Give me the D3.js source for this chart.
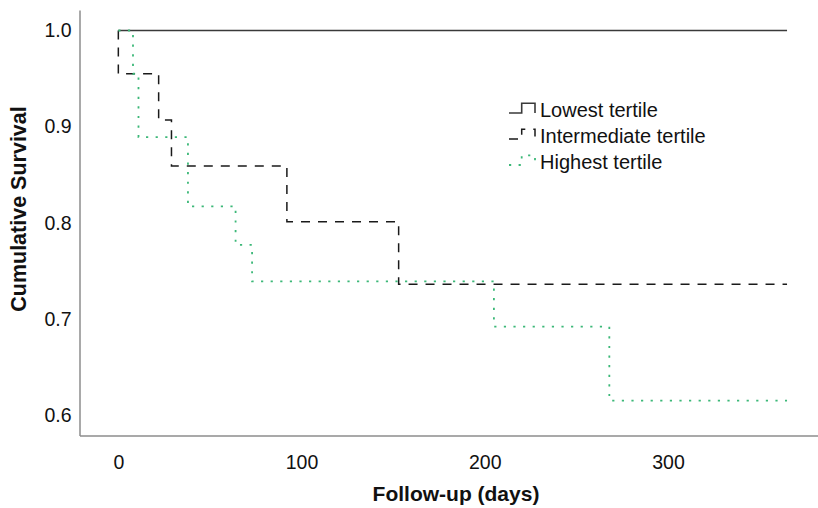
<!DOCTYPE html>
<html>
<head>
<meta charset="utf-8">
<script src="https://cdn.jsdelivr.net/npm/d3@7"></script>
<style>
  body { margin: 0; background: #fff; }
  svg { display: block; font-family: "Liberation Sans", Arial, sans-serif; }
</style>
</head>
<body>
<svg id="chart" width="818" height="508"></svg>
<script>
// Kaplan-Meier steps
var lowest_days = [0, 365];
var lowest_surv = [1.0, 1.0];

var inter_days = [0, 0, 22, 29, 92, 153, 365];
var inter_surv = [1.0, 0.955, 0.907, 0.859, 0.801, 0.736, 0.736];

var high_days = [0, 8, 11, 38, 64, 73, 205, 268, 365];
var high_surv = [1.0, 0.955, 0.889, 0.817, 0.777, 0.739, 0.692, 0.615, 0.615];

var series_names = ["Lowest tertile", "Intermediate tertile", "Highest tertile"];
var x_ticks = [0, 100, 200, 300];
var y_ticks = [0.6, 0.7, 0.8, 0.9, 1.0];

var svg = d3.select("#chart");

var x_scale = d3.scaleLinear().domain([-21.2, 381.9]).range([79.5, 818]);
var y_scale = d3.scaleLinear().domain([0.5787, 1.0213]).range([435.5, 10]);

var styles = [
    {color: "#3a3a3a", dash: null, width: 1.6},
    {color: "#1a1a1a", dash: "9,8", width: 1.5},
    {color: "#3cb878", dash: "2.2,7.4", width: 1.8}
];

function toPoints(days, surv) {
    var pts = [];
    for (var i = 0; i < days.length; i++) pts.push([days[i], surv[i]]);
    return pts;
}

var curves = [
    toPoints(lowest_days, lowest_surv),
    toPoints(inter_days, inter_surv),
    toPoints(high_days, high_surv)
];

// axes (no ticks, labels only)
var x_axis = d3.axisBottom(x_scale).tickValues(x_ticks).tickSize(0).tickPadding(20).tickFormat(d3.format("d"));
var y_axis = d3.axisLeft(y_scale).tickValues(y_ticks).tickSize(0).tickPadding(8).tickFormat(d3.format(".1f"));

var gx = svg.append("g").attr("transform", "translate(0," + y_scale.range()[0] + ")").call(x_axis);
var gy = svg.append("g").attr("transform", "translate(" + x_scale.range()[0] + ",0)").call(y_axis);

[gx, gy].forEach(function(g) {
    g.select(".domain").attr("stroke", "#8c8c8c").attr("stroke-width", 1.5);
    g.selectAll("text").attr("font-size", 19.5).attr("fill", "#111")
        .attr("font-family", "'Liberation Sans', Arial, sans-serif");
});

var line = d3.line()
    .x(function(d) { return x_scale(d[0]); })
    .y(function(d) { return y_scale(d[1]); })
    .curve(d3.curveStepAfter);

svg.selectAll("path.km")
    .data(curves)
    .enter()
    .append("path")
    .attr("class", "km")
    .attr("d", line)
    .attr("fill", "none")
    .attr("stroke", function(d, i) { return styles[i].color; })
    .attr("stroke-width", function(d, i) { return styles[i].width; })
    .attr("stroke-dasharray", function(d, i) { return styles[i].dash; });

// legend
var legend = svg.append("g").attr("transform", "translate(509,116)");
var rows = legend.selectAll("g")
    .data(series_names)
    .enter()
    .append("g")
    .attr("transform", function(d, i) { return "translate(0," + (i * 26) + ")"; });

rows.append("path")
    .attr("d", "M0,-3H12.7V-12.7H26V-3")
    .attr("fill", "none")
    .attr("stroke", function(d, i) { return styles[i].color; })
    .attr("stroke-width", function(d, i) { return styles[i].width; })
    .attr("stroke-dasharray", function(d, i) { return styles[i].dash; });

rows.append("text")
    .attr("x", 31)
    .attr("y", 1)
    .attr("font-size", 20)
    .attr("fill", "#111")
    .text(function(d) { return d; });

// axis titles
svg.append("text")
    .attr("x", 456)
    .attr("y", 501)
    .attr("text-anchor", "middle")
    .attr("font-size", 21)
    .attr("font-weight", "bold")
    .attr("fill", "#111")
    .text("Follow-up (days)");

svg.append("text")
    .attr("transform", "translate(26,209) rotate(-90)")
    .attr("text-anchor", "middle")
    .attr("font-size", 21.5)
    .attr("font-weight", "bold")
    .attr("fill", "#111")
    .text("Cumulative Survival");
</script>
</body>
</html>
